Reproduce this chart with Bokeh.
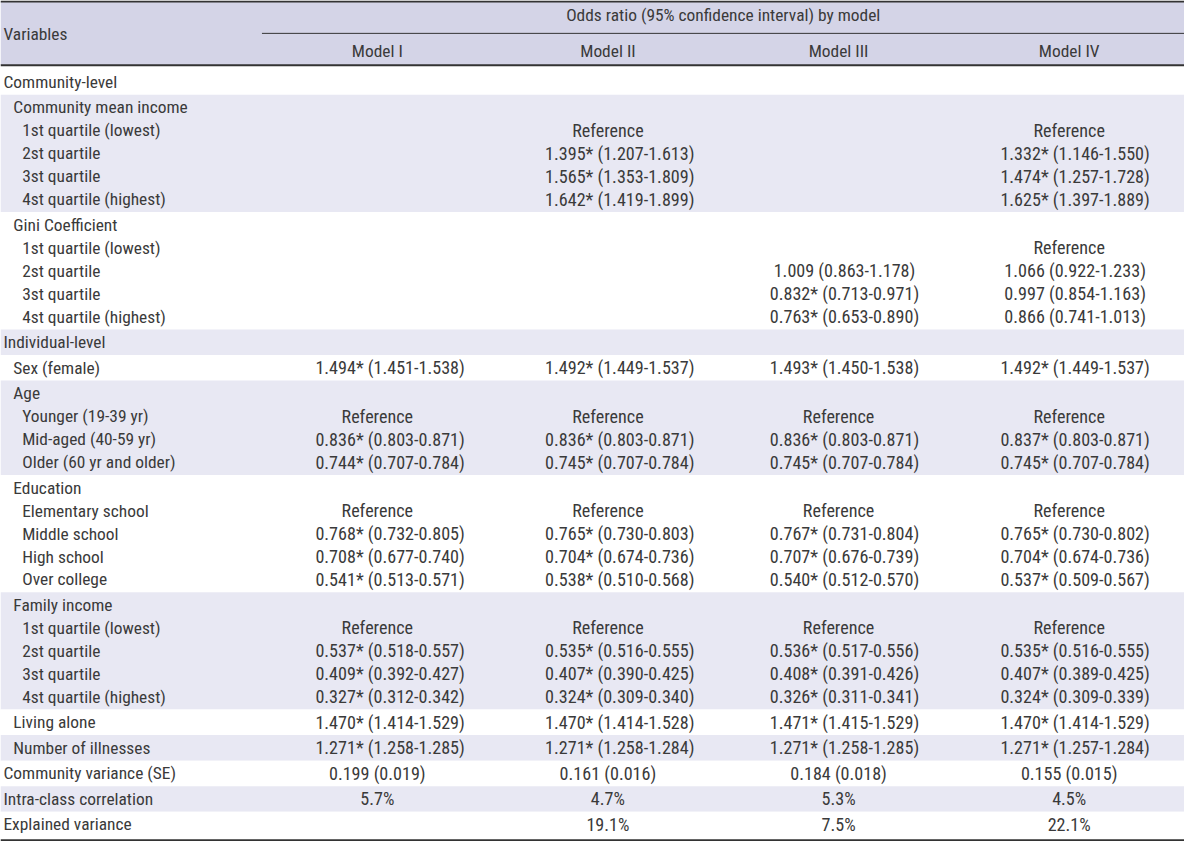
from bokeh.plotting import figure
from bokeh.models import Range1d, ColumnDataSource
from bokeh.core.properties import value
from bokeh.embed import file_html
from bokeh.resources import INLINE

# ---------------- data ----------------
header_top = "Odds ratio (95% confidence interval) by model"
header_var = "Variables"
model_names = ["Model I", "Model II", "Model III", "Model IV"]

labels = ["Community-level", "Community mean income", "1st quartile (lowest)", "2st quartile",
          "3st quartile", "4st quartile (highest)", "Gini Coefficient", "1st quartile (lowest)",
          "2st quartile", "3st quartile", "4st quartile (highest)", "Individual-level",
          "Sex (female)", "Age", "Younger (19-39 yr)", "Mid-aged (40-59 yr)",
          "Older (60 yr and older)", "Education", "Elementary school", "Middle school",
          "High school", "Over college", "Family income", "1st quartile (lowest)",
          "2st quartile", "3st quartile", "4st quartile (highest)", "Living alone",
          "Number of illnesses", "Community variance (SE)", "Intra-class correlation",
          "Explained variance"]
indent = [0, 1, 2, 2, 2, 2, 1, 2, 2, 2, 2, 0, 1, 1, 2, 2, 2, 1, 2, 2, 2, 2, 1, 2, 2, 2, 2,
          1, 1, 0, 0, 0]
block_sizes = [1, 5, 5, 1, 1, 4, 5, 5, 1, 1, 1, 1, 1]

model1 = ["", "", "", "", "", "", "", "", "", "", "", "",
          "1.494* (1.451-1.538)", "", "Reference", "0.836* (0.803-0.871)", "0.744* (0.707-0.784)",
          "", "Reference", "0.768* (0.732-0.805)", "0.708* (0.677-0.740)", "0.541* (0.513-0.571)",
          "", "Reference", "0.537* (0.518-0.557)", "0.409* (0.392-0.427)", "0.327* (0.312-0.342)",
          "1.470* (1.414-1.529)", "1.271* (1.258-1.285)", "0.199 (0.019)", "5.7%", ""]
model2 = ["", "", "Reference", "1.395* (1.207-1.613)", "1.565* (1.353-1.809)",
          "1.642* (1.419-1.899)", "", "", "", "", "", "",
          "1.492* (1.449-1.537)", "", "Reference", "0.836* (0.803-0.871)", "0.745* (0.707-0.784)",
          "", "Reference", "0.765* (0.730-0.803)", "0.704* (0.674-0.736)", "0.538* (0.510-0.568)",
          "", "Reference", "0.535* (0.516-0.555)", "0.407* (0.390-0.425)", "0.324* (0.309-0.340)",
          "1.470* (1.414-1.528)", "1.271* (1.258-1.284)", "0.161 (0.016)", "4.7%", "19.1%"]
model3 = ["", "", "", "", "", "", "", "", "1.009 (0.863-1.178)", "0.832* (0.713-0.971)",
          "0.763* (0.653-0.890)", "",
          "1.493* (1.450-1.538)", "", "Reference", "0.836* (0.803-0.871)", "0.745* (0.707-0.784)",
          "", "Reference", "0.767* (0.731-0.804)", "0.707* (0.676-0.739)", "0.540* (0.512-0.570)",
          "", "Reference", "0.536* (0.517-0.556)", "0.408* (0.391-0.426)", "0.326* (0.311-0.341)",
          "1.471* (1.415-1.529)", "1.271* (1.258-1.285)", "0.184 (0.018)", "5.3%", "7.5%"]
model4 = ["", "", "Reference", "1.332* (1.146-1.550)", "1.474* (1.257-1.728)",
          "1.625* (1.397-1.889)", "", "Reference", "1.066 (0.922-1.233)", "0.997 (0.854-1.163)",
          "0.866 (0.741-1.013)", "",
          "1.492* (1.449-1.537)", "", "Reference", "0.837* (0.803-0.871)", "0.745* (0.707-0.784)",
          "", "Reference", "0.765* (0.730-0.802)", "0.704* (0.674-0.736)", "0.537* (0.509-0.567)",
          "", "Reference", "0.535* (0.516-0.555)", "0.407* (0.389-0.425)", "0.324* (0.309-0.339)",
          "1.470* (1.414-1.529)", "1.271* (1.257-1.284)", "0.155 (0.015)", "4.5%", "22.1%"]
models = [model1, model2, model3, model4]

# ---------------- layout (reference pixel space) ----------------
W, H = 1200, 857
TABLE_W = 1200
HEAD_BOTTOM = 66
LINE_H = 23.4
BLOCK_PAD = 2.6
FIRST_COL = 265
col_w = (TABLE_W - FIRST_COL) / 4
col_centers = [FIRST_COL + col_w * (i + 0.5) for i in range(4)]
ci_shift = [13, 12, 6, 6]      # interval strings sit a little right of the column centre
indent_px = [3, 13, 22]

FONT = "Roboto Condensed"
FS_LABEL = "17.4px"
FS_VALUE = "18.1px"
TXT = "#3a3a3a"
HEAD_BG = "#d4d4e7"
STRIPE = "#e8e8f3"

p = figure(width=1184, height=841, x_range=Range1d(0, W), y_range=Range1d(H, 0),
           output_backend="svg", toolbar_location=None, min_border=0,
           x_axis_location=None, y_axis_location=None)
p.grid.visible = False
p.outline_line_color = None
p.background_fill_color = "white"
p.border_fill_color = "white"

# bands
extra_top = [4] + [0] * (len(block_sizes) - 1)
extra_bottom = [0] * (len(block_sizes) - 1) + [3]
tops, bottoms, colors, row_y = [], [], [], []
y = HEAD_BOTTOM
for bi, n in enumerate(block_sizes):
    h = n * LINE_H + BLOCK_PAD + extra_top[bi] + extra_bottom[bi]
    tops.append(y)
    bottoms.append(y + h)
    colors.append("white" if bi % 2 == 0 else STRIPE)
    first = y + extra_top[bi] + (BLOCK_PAD + LINE_H) / 2
    for k in range(n):
        row_y.append(first + k * LINE_H)
    y += h
table_bottom = y

p.quad(left=0, right=TABLE_W, top=[1], bottom=[HEAD_BOTTOM], fill_color=HEAD_BG, line_color=None)
p.quad(left=0, right=TABLE_W, top=tops, bottom=bottoms, fill_color=colors, line_color=None)

# rules
p.segment(x0=[0, 0, 0], x1=[TABLE_W] * 3, y0=[1, HEAD_BOTTOM, table_bottom],
          y1=[1, HEAD_BOTTOM, table_bottom], line_color="#333333", line_width=2)
p.segment(x0=[FIRST_COL], x1=[TABLE_W], y0=[33.5], y1=[33.5], line_color="#333333", line_width=1)

# header texts
p.text(x=[3], y=[34], text=[header_var], text_font=value(FONT), text_font_size=FS_LABEL,
       text_color=TXT, text_align="left", text_baseline="middle")
p.text(x=[(FIRST_COL + TABLE_W) / 2], y=[14.5], text=[header_top], text_font=value(FONT),
       text_font_size=FS_LABEL, text_color=TXT, text_align="center", text_baseline="middle")
p.text(x=col_centers, y=[51] * 4, text=model_names, text_font=value(FONT),
       text_font_size=FS_LABEL, text_color=TXT, text_align="center", text_baseline="middle")

# row labels
src = ColumnDataSource(dict(x=[indent_px[i] for i in indent], y=row_y, t=labels))
p.text(x="x", y="y", text="t", source=src, text_font=value(FONT), text_font_size=FS_LABEL,
       text_color=TXT, text_align="left", text_baseline="middle")

# values
for ci, vals in enumerate(models):
    xs = [col_centers[ci] + (ci_shift[ci] if "-" in v else 0) for v in vals]
    s = ColumnDataSource(dict(x=xs, y=row_y, t=vals))
    p.text(x="x", y="y", text="t", source=s, text_font=value(FONT), text_font_size=FS_VALUE,
           text_color=TXT, text_align="center", text_baseline="middle")

open("out.html", "w").write(file_html(p, INLINE))
